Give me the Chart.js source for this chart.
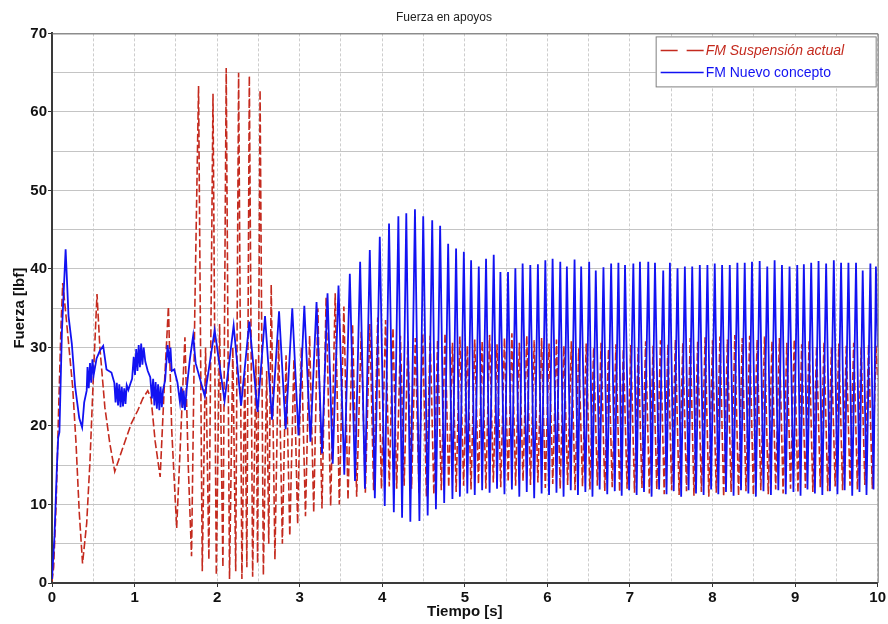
<!DOCTYPE html>
<html>
<head>
<meta charset="utf-8">
<script src="https://cdn.jsdelivr.net/npm/chart.js@4/dist/chart.umd.min.js"></script>
<style>
html,body{margin:0;padding:0;background:#fff;}
#wrap{width:888px;height:624px;}
</style>
</head>
<body>
<div id="wrap"><canvas id="c" width="888" height="624"></canvas></div>
<script>
// ---- Text ----
const chartTitle = 'Fuerza en apoyos';
const xAxisTitle = 'Tiempo [s]';
const yAxisTitle = 'Fuerza [lbf]';
const seriesNames = ['FM Suspensión actual', 'FM Nuevo concepto'];
const xTickLabels = ['0','1','2','3','4','5','6','7','8','9','10'];
const yTickLabels = ['0','10','20','30','40','50','60','70'];

// ---- Data: [tiempo s, fuerza lbf] (extremos) ----
const nuevoConcepto = [
[0.00,0.5],[0.03,6.0],[0.06,15.0],[0.075,18.5],[0.09,19.2],[0.12,32.0],[0.165,42.5],[0.20,34.0],[0.24,30.5],[0.28,25.0],
[0.33,21.0],[0.365,19.8],[0.39,23.0],[0.42,24.5],[0.43,27.5],[0.445,24.8],[0.46,28.0],[0.475,25.5],[0.49,28.5],[0.505,26.5],
[0.54,28.6],[0.58,29.6],[0.62,30.2],[0.66,27.2],[0.72,26.8],[0.755,25.5],[0.77,23.0],[0.785,25.5],[0.80,22.6],[0.815,25.3],
[0.83,22.4],[0.845,25.0],[0.86,22.5],[0.875,24.8],[0.89,22.8],[0.905,25.2],[0.925,24.6],[0.95,25.4],[0.97,26.0],[0.99,28.8],
[1.005,26.5],[1.02,29.8],[1.035,27.0],[1.05,30.3],[1.065,27.5],[1.08,30.5],[1.095,27.8],[1.11,30.0],[1.13,28.2],[1.16,27.0],
[1.19,26.2],[1.21,23.5],[1.225,26.0],[1.24,22.6],[1.255,25.6],[1.27,22.2],[1.285,25.3],[1.30,22.0],[1.315,25.0],[1.33,22.4],
[1.345,24.6],[1.37,25.8],[1.40,30.3],[1.42,28.0],[1.435,30.0],[1.45,27.0],[1.48,27.2],[1.52,25.5],[1.55,23.0],[1.565,25.0],
[1.58,22.3],[1.595,24.5],[1.61,22.0],[1.63,24.6],[1.67,28.5],[1.71,31.5],[1.74,28.0],
[1.85,23.8],[1.97,32.2],[2.09,23.2],[2.20,32.8],[2.29,22.6],[2.39,33.3],[2.49,21.8],[2.58,34.0],[2.665,20.8],[2.75,34.6],
[2.83,19.6],[2.91,35.0],[2.985,18.8],[3.056,35.3],
[3.13,18.0],[3.204,35.8],[3.27,16.5],[3.337,36.9],[3.40,15.2],[3.470,37.9],[3.54,13.8],[3.607,39.4],[3.67,13.0],[3.732,40.9],
[3.79,12.0],[3.849,42.4],[3.91,10.8],[3.970,44.1],[4.03,9.8],[4.082,45.8],[4.14,9.0],[4.195,46.7],[4.24,8.3],[4.291,47.1],
[4.34,7.8],[4.396,47.6],[4.45,7.9],[4.496,46.7],[4.55,8.6],[4.605,46.2],[4.65,9.4],[4.701,45.5],[4.75,10.2],[4.798,43.2],
[4.85,10.7],[4.894,42.6],[4.94,11.0],[4.988,42.2],[5.03,11.4],[5.076,41.1],[5.12,11.2],[5.169,40.3],[5.21,11.8],[5.257,41.3],
[5.30,11.5],[5.350,41.8],[5.39,12.0],[5.431,39.6],[5.48,11.3],[5.523,39.6],[5.57,11.9],[5.612,40.1],[5.66,11.0],[5.700,40.7],
[5.75,11.6],[5.793,40.5],[5.84,10.8],[5.885,40.6],[5.93,11.4],[5.975,41.1],[6.02,11.2],[6.063,41.3],
[6.11,11.5],[6.156,40.9],[6.196,11.0],[6.236,40.3],[6.283,11.8],[6.329,41.2],[6.37,11.2],[6.409,40.3],[6.46,11.6],[6.506,40.9],
[6.546,11.0],[6.586,39.8],[6.633,11.9],[6.679,40.2],[6.725,11.3],[6.772,40.7],[6.816,11.7],[6.860,40.8],[6.90,11.1],[6.940,40.5],
[6.99,11.8],[7.041,40.7],[7.081,11.2],[7.121,40.9],[7.17,11.6],[7.222,40.9],[7.262,11.0],[7.303,40.8],[7.353,11.9],[7.403,39.8],
[7.443,11.3],[7.484,40.8],[7.53,11.7],[7.576,40.1],[7.62,11.0],[7.665,40.3],[7.71,11.8],[7.754,40.3],[7.80,11.4],[7.846,40.5],
[7.892,11.2],[7.938,40.5],[7.983,11.9],[8.027,40.7],[8.07,11.3],[8.116,40.5],[8.163,11.6],[8.209,40.5],[8.255,11.1],[8.301,40.8],
[8.345,11.8],[8.390,40.8],[8.434,11.4],[8.478,40.9],[8.525,11.0],[8.571,41.0],[8.617,11.7],[8.663,40.3],[8.707,11.2],[8.752,41.1],
[8.797,11.8],[8.841,40.5],[8.887,11.3],[8.933,40.3],[8.98,11.6],[9.026,40.5],[9.066,11.1],[9.106,40.6],[9.15,11.9],[9.195,40.8],
[9.24,11.4],[9.284,41.0],[9.33,11.2],[9.376,40.7],[9.422,11.7],[9.469,41.1],[9.513,11.3],[9.557,40.8],[9.60,11.8],[9.646,40.8],
[9.692,11.1],[9.738,40.8],[9.78,11.6],[9.819,39.8],[9.865,11.2],[9.912,40.7],[9.95,11.9],[9.979,40.3],[10.0,30.0]
];

const suspensionActual = [
[0.00,0.2],[0.02,2.0],[0.05,10.0],[0.08,22.0],[0.11,33.0],[0.13,38.2],[0.17,34.0],[0.21,29.5],[0.25,25.0],[0.29,18.0],
[0.33,9.0],[0.37,2.5],[0.42,7.6],[0.46,15.5],[0.50,26.0],[0.545,36.8],[0.58,30.0],[0.64,22.4],[0.70,17.8],[0.76,14.2],
[0.86,17.3],[0.96,20.3],[1.04,22.0],[1.10,23.5],[1.16,24.5],[1.20,23.5],[1.25,18.0],[1.31,13.5],[1.36,25.0],[1.41,35.2],
[1.45,19.5],[1.51,7.0],[1.56,19.0],[1.61,31.3],[1.65,15.0],[1.69,3.4],[1.73,35.0],[1.775,63.3],
[1.82,1.5],[1.86,30.0],[1.90,3.0],[1.95,62.3],[1.99,1.0],[2.03,33.0],[2.07,2.0],[2.11,65.6],[2.15,0.5],[2.19,30.0],
[2.225,1.5],[2.26,65.0],[2.30,0.5],[2.335,27.0],[2.36,2.0],[2.39,64.6],[2.43,0.8],[2.47,28.5],[2.49,2.5],[2.52,62.8],
[2.56,1.0],[2.60,27.0],[2.625,5.0],[2.655,38.0],[2.70,3.0],
[2.745,31.0],[2.79,5.0],[2.835,29.0],[2.88,6.0],[2.93,28.5],[2.975,7.5],[3.02,30.0],[3.07,8.5],[3.12,31.5],[3.17,9.0],
[3.22,35.0],[3.27,9.5],[3.32,36.4],[3.375,9.8],[3.43,36.9],[3.48,10.0],[3.535,35.2],[3.585,10.6],[3.64,33.0],[3.69,11.0],
[3.745,32.0],[3.795,11.5],[3.85,33.0],[3.895,11.8],[3.945,33.8],[3.99,12.0],[4.04,33.5],[4.085,12.3],[4.13,32.5],[4.175,12.0],
[4.22,31.5],[4.265,12.4],[4.31,30.8],[4.355,12.0],[4.40,31.2],[4.445,11.5],[4.49,31.8],[4.535,11.0],[4.58,31.5],[4.625,11.3],
[4.67,31.0],[4.715,11.8],[4.76,31.8],[4.805,12.2],[4.85,30.6],[4.895,11.6],[4.94,31.4],[4.985,12.4],[5.03,30.2],[5.075,11.9],
[5.12,31.0],[5.165,12.6],[5.21,30.8],[5.255,12.0],[5.30,31.6],[5.345,12.8],[5.39,30.4],[5.435,12.2],[5.48,31.2],[5.525,12.9],
[5.57,31.8],[5.615,12.4],[5.66,30.6],[5.705,13.0],[5.75,31.5],[5.795,12.5],[5.84,30.9],[5.885,12.8],[5.93,31.2],[5.975,12.1],
[6.02,30.5],[6.065,12.6],[6.11,31.0],[6.155,12.0],[6.20,30.2],[6.245,12.5],[6.29,30.8],[6.335,11.8],[6.38,29.9],[6.425,12.3],
[6.47,30.5],[6.515,11.9],[6.56,30.0],[6.605,12.4],[6.65,30.6],[6.695,11.7],[6.74,29.8],[6.785,12.2],[6.83,30.4],[6.875,11.6],
[6.92,29.8],[6.965,12.0],[7.01,30.3],[7.055,11.5],[7.10,30.0],[7.145,12.1],[7.19,30.8],[7.235,11.4],[7.28,30.2],[7.325,11.9],
[7.37,30.9],[7.415,11.3],[7.46,30.4],[7.505,11.8],[7.55,31.0],[7.595,11.2],[7.64,30.6],[7.685,11.7],[7.73,31.2],[7.775,11.1],
[7.82,30.8],[7.865,11.6],[7.91,31.3],[7.955,11.0],[8.00,30.9],[8.045,11.5],[8.09,31.4],[8.135,11.0],[8.18,31.0],[8.225,11.6],
[8.27,31.6],[8.315,11.1],[8.36,31.2],[8.405,11.7],[8.45,31.5],[8.495,11.2],[8.54,31.0],[8.585,11.8],[8.63,31.4],[8.675,11.3],
[8.72,30.8],[8.765,11.9],[8.81,31.2],[8.855,11.4],[8.90,30.6],[8.945,12.0],[8.99,31.0],[9.035,11.5],[9.08,30.4],[9.125,12.1],
[9.17,30.9],[9.215,11.6],[9.26,30.2],[9.305,12.2],[9.35,30.7],[9.395,11.7],[9.44,30.0],[9.485,12.3],[9.53,30.5],[9.575,11.8],
[9.62,30.2],[9.665,12.4],[9.71,30.6],[9.755,11.9],[9.80,30.0],[9.845,12.5],[9.89,30.4],[9.935,12.0],[9.98,30.2],[10.0,26.0]
];

const RED = '#c42a1e';
const BLUE = '#1212f2';
const FONT = '"Liberation Sans", Arial, sans-serif';

const toXY = arr => arr.map(p => ({x: p[0], y: p[1]}));

const frameAndLegend = {
  id: 'frameAndLegend',
  afterDraw(chart) {
    const {ctx, chartArea: a} = chart;
    ctx.save();
    // top / right frame
    ctx.strokeStyle = '#6a6a6a';
    ctx.lineWidth = 1;
    ctx.beginPath();
    ctx.moveTo(a.left, a.top + 0.5);
    ctx.lineTo(a.right + 0.5, a.top + 0.5);
    ctx.lineTo(a.right + 0.5, a.bottom);
    ctx.stroke();
    // legend box
    const w = 220, h = 50;
    const x0 = a.right - w - 2, y0 = a.top + 3;
    ctx.fillStyle = '#fff';
    ctx.fillRect(x0, y0, w, h);
    ctx.strokeStyle = '#808080';
    ctx.strokeRect(x0 + 0.5, y0 + 0.5, w, h);
    const items = [
      {name: seriesNames[0], color: RED, dash: [17, 9], italic: true, y: y0 + 14},
      {name: seriesNames[1], color: BLUE, dash: [], italic: false, y: y0 + 36}
    ];
    items.forEach(it => {
      ctx.strokeStyle = it.color;
      ctx.lineWidth = 1.5;
      ctx.setLineDash(it.dash);
      ctx.beginPath();
      ctx.moveTo(x0 + 5, it.y);
      ctx.lineTo(x0 + 48, it.y);
      ctx.stroke();
      ctx.setLineDash([]);
      ctx.fillStyle = it.color;
      ctx.font = (it.italic ? 'italic ' : '') + '14px ' + FONT;
      ctx.textBaseline = 'middle';
      ctx.textAlign = 'left';
      ctx.fillText(it.name, x0 + 50, it.y + 1);
    });
    ctx.restore();
  }
};

new Chart(document.getElementById('c'), {
  type: 'line',
  data: {
    datasets: [
      {
        label: seriesNames[1],
        data: toXY(nuevoConcepto),
        borderColor: BLUE,
        borderWidth: 1.8,
        pointRadius: 0,
        tension: 0,
        fill: false
      },
      {
        label: seriesNames[0],
        data: toXY(suspensionActual),
        borderColor: RED,
        borderWidth: 1.6,
        borderDash: [8, 3],
        pointRadius: 0,
        tension: 0,
        fill: false
      }
    ]
  },
  options: {
    responsive: false,
    animation: false,
    events: [],
    layout: {padding: {left: 0, right: 0, top: 0, bottom: 0}},
    plugins: {
      legend: {display: false},
      tooltip: {enabled: false},
      title: {
        display: true,
        text: chartTitle,
        color: '#222',
        font: {family: FONT, size: 12, weight: 'normal', lineHeight: 1.2},
        padding: {top: 10, bottom: 9}
      }
    },
    scales: {
      x: {
        type: 'linear',
        min: 0, max: 10,
        afterFit: s => { s.height = 41; },
        ticks: {
          stepSize: 0.5,
          autoSkip: false,
          maxRotation: 0,
          padding: 2,
          color: '#111',
          font: {family: FONT, size: 15, weight: 'bold'},
          callback: v => (Number.isInteger(v) ? xTickLabels[v] : '')
        },
        grid: {
          color: '#cdcdcd',
          lineWidth: 1,
          tickLength: 4,
          tickColor: c => (c.tick && Number.isInteger(c.tick.value) ? '#333' : 'rgba(0,0,0,0)')
        },
        border: {display: true, color: '#3a3a3a', width: 2, dash: [3, 2]},
        title: {
          display: true,
          text: xAxisTitle,
          color: '#111',
          font: {family: FONT, size: 15, weight: 'bold', lineHeight: 1.2},
          padding: {top: 0, bottom: 3}
        }
      },
      y: {
        type: 'linear',
        min: 0, max: 70,
        afterFit: s => { s.width = 52; },
        ticks: {
          stepSize: 5,
          autoSkip: false,
          padding: 1,
          color: '#111',
          font: {family: FONT, size: 15, weight: 'bold'},
          callback: v => (v % 10 === 0 ? yTickLabels[v / 10] : '')
        },
        grid: {
          color: '#c4c4c4',
          lineWidth: 1,
          tickLength: 4,
          tickColor: c => (c.tick && c.tick.value % 10 === 0 ? '#333' : 'rgba(0,0,0,0)')
        },
        border: {display: true, color: '#3a3a3a', width: 2},
        title: {
          display: true,
          text: yAxisTitle,
          color: '#111',
          font: {family: FONT, size: 15, weight: 'bold', lineHeight: 1.2},
          padding: {top: 11, bottom: 0}
        }
      }
    }
  },
  plugins: [frameAndLegend]
});
</script>
</body>
</html>
